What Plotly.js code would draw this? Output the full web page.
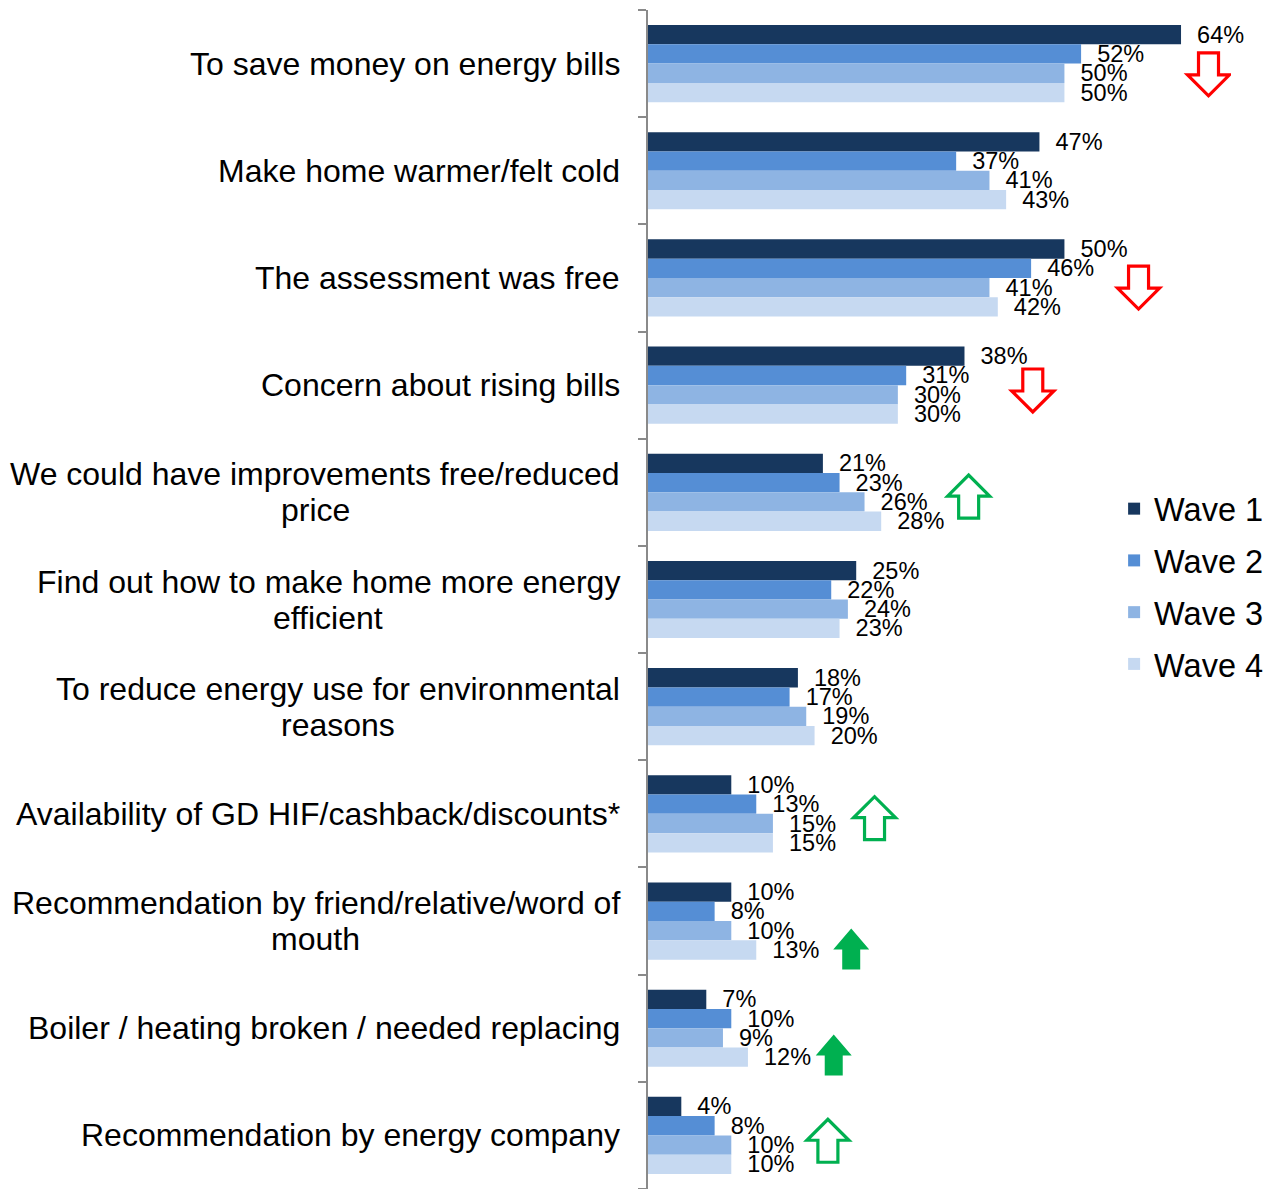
<!DOCTYPE html>
<html>
<head>
<meta charset="utf-8">
<script src="https://cdn.plot.ly/plotly-3.0.1.min.js"></script>
<style>
  html, body { margin: 0; padding: 0; background: #ffffff; }
  #chart { width: 1272px; height: 1189px; }
</style>
</head>
<body>
<div id="chart"></div>
<script>
// Reasons for taking part, by survey wave (% of respondents)
const categories = [
  "To save money on energy bills",
  "Make home warmer/felt cold",
  "The assessment was free",
  "Concern about rising bills",
  "We could have improvements free/reduced<br>price",
  "Find out how to make home more energy<br>efficient",
  "To reduce energy use for environmental<br>reasons",
  "Availability of GD HIF/cashback/discounts*",
  "Recommendation by friend/relative/word of<br>mouth",
  "Boiler / heating broken / needed replacing",
  "Recommendation by energy company"
];

const waveNames = ["Wave 1", "Wave 2", "Wave 3", "Wave 4"];

const wave1 = [64, 47, 50, 38, 21, 25, 18, 10, 10, 7, 4];
const wave2 = [52, 37, 46, 31, 23, 22, 17, 13, 8, 10, 8];
const wave3 = [50, 41, 41, 30, 26, 24, 19, 15, 10, 9, 10];
const wave4 = [50, 43, 42, 30, 28, 23, 20, 15, 13, 12, 10];

// Significant change markers: which category, direction, and whether solid
const changeCategory = [0, 2, 3, 4, 7, 8, 9, 10];
const changeDirection = ["down", "down", "down", "up", "up", "up", "up", "up"];
const changeSolid = [false, false, false, false, false, true, true, false];

// Placement of each change marker (x in %, y as category index)
const markerX = [67.3, 58.9, 46.2, 38.5, 27.2, 24.4, 22.3, 21.6];
const markerY = [0.10, 2.09, 3.05, 4.04, 7.04, 8.26, 9.25, 10.05];

const waveColors = ["#17375E", "#558ED5", "#8EB4E3", "#C6D9F1"];
const FONT = "Liberation Sans, Arial, Helvetica, sans-serif";
const LABEL_SIZE = 32;
const LABEL_GAP = 27;      // space between category text and the axis line
const LINE_STEP = 36;      // distance between wrapped label lines

const series = [wave1, wave2, wave3, wave4];
const traces = series.map((vals, i) => ({
  type: "bar",
  orientation: "h",
  name: waveNames[i],
  legendgroup: "g" + i,
  x: vals,
  y: categories.map((c, k) => k),
  marker: { color: waveColors[i], line: { width: 0 } },
  texttemplate: "\u00a0\u00a0%{x}%",
  textposition: "outside",
  constraintext: "none",
  cliponaxis: false,
  textfont: { family: FONT, size: 23.5, color: "#000000" },
  hoverinfo: "skip"
}));

// Block arrow outline, in pixels relative to its anchor (y up)
function arrowPath(dir, W, H, S, L) {
  const s = dir === "down" ? 1 : -1;
  const pts = [
    [-S / 2, s * H / 2],
    [S / 2, s * H / 2],
    [S / 2, s * (H / 2 - L)],
    [W / 2, s * (H / 2 - L)],
    [0, -s * H / 2],
    [-W / 2, s * (H / 2 - L)],
    [-S / 2, s * (H / 2 - L)]
  ];
  return "M" + pts.map(p => p[0].toFixed(1) + "," + p[1].toFixed(1)).join("L") + "Z";
}

const shapes = changeCategory.map((c, i) => {
  const down = changeDirection[i] === "down";
  const color = down ? "#FF0000" : "#00B050";
  const solid = changeSolid[i];
  const W = solid ? 36 : 42;
  const H = solid ? 41 : 43;
  const S = solid ? 18 : 20;
  const L = solid ? 20 : 22;
  return {
    type: "path",
    xref: "x", yref: "y",
    xsizemode: "pixel", ysizemode: "pixel",
    xanchor: markerX[i], yanchor: markerY[i],
    path: arrowPath(changeDirection[i], W, H, S, L),
    fillcolor: solid ? color : "#FFFFFF",
    line: { color: color, width: solid ? 0 : 3.2 },
    layer: "above"
  };
});

// Category labels: each line its own annotation so the line spacing stays tight;
// later lines are centred under the first one.
const measureCtx = document.createElement("canvas").getContext("2d");
measureCtx.font = LABEL_SIZE + "px " + FONT;
const annotations = [];
categories.forEach((c, k) => {
  const lines = c.split("<br>");
  const firstWidth = measureCtx.measureText(lines[0]).width;
  lines.forEach((line, j) => {
    const yshift = ((lines.length - 1) / 2 - j) * LINE_STEP;
    const base = {
      xref: "x", yref: "y",
      x: 0, y: k,
      yanchor: "middle",
      yshift: yshift,
      showarrow: false,
      borderpad: 0,
      text: line,
      font: { family: FONT, size: LABEL_SIZE, color: "#000000" }
    };
    if (j === 0) {
      annotations.push(Object.assign(base, { xanchor: "right", xshift: -LABEL_GAP }));
    } else {
      annotations.push(Object.assign(base, { xanchor: "center", xshift: -LABEL_GAP - firstWidth / 2 - 1 }));
    }
  });
});

const layout = {
  width: 1272,
  height: 1189,
  margin: { l: 648, r: 41, t: 10, b: 0, pad: 0 },
  paper_bgcolor: "#ffffff",
  plot_bgcolor: "#ffffff",
  barmode: "group",
  bargap: 0.28,
  bargroupgap: 0,
  font: { family: FONT, color: "#000000" },
  showlegend: true,
  legend: {
    x: 0.7995, xanchor: "left",
    y: 0.511, yanchor: "middle",
    traceorder: "grouped",
    tracegroupgap: 6.5,
    font: { family: FONT, size: 32.5, color: "#000000" },
    bgcolor: "rgba(0,0,0,0)",
    borderwidth: 0
  },
  xaxis: {
    range: [0, 70],
    visible: false,
    showgrid: false,
    zeroline: false,
    fixedrange: true
  },
  yaxis: {
    type: "linear",
    range: [10.5, -0.5],
    showgrid: false,
    zeroline: false,
    showline: true,
    linecolor: "#8A8A8A",
    linewidth: 2,
    ticks: "outside",
    tickmode: "array",
    tickvals: [-0.5, 0.5, 1.5, 2.5, 3.5, 4.5, 5.5, 6.5, 7.5, 8.5, 9.5, 10.5],
    ticklen: 8,
    tickwidth: 2,
    tickcolor: "#8A8A8A",
    showticklabels: false,
    fixedrange: true
  },
  shapes: shapes,
  annotations: annotations
};

Plotly.newPlot("chart", traces, layout, { displayModeBar: false, staticPlot: true });
</script>
</body>
</html>
